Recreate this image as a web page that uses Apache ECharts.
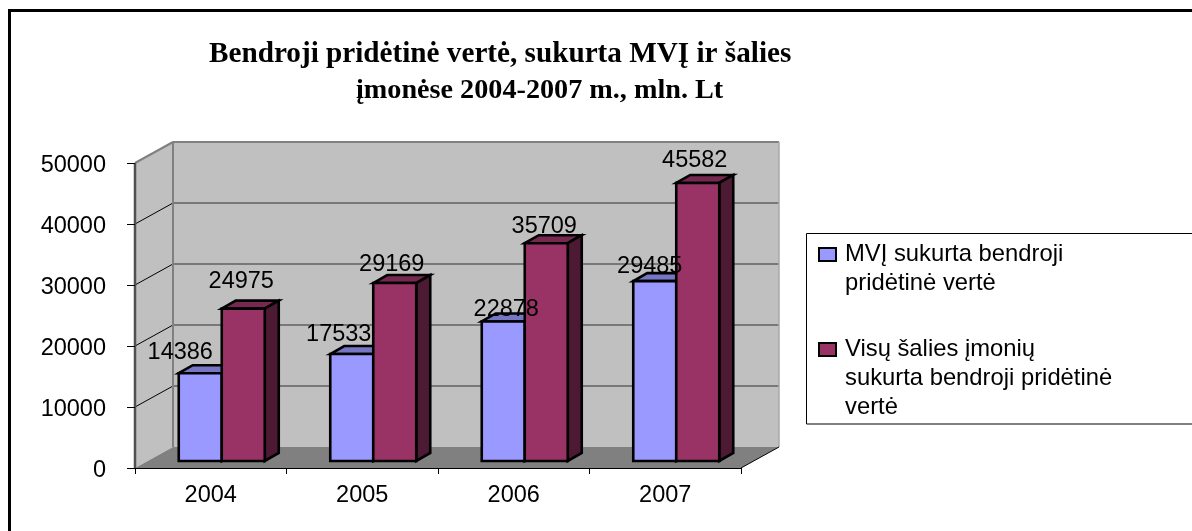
<!DOCTYPE html>
<html><head><meta charset="utf-8">
<style>html,body{margin:0;padding:0;background:#fff}#c{width:1192px;height:531px}</style>
<script src="https://cdn.jsdelivr.net/npm/echarts@6/dist/echarts.min.js"></script>
</head><body><div id="c"></div>
<script>
const categories = ['2004', '2005', '2006', '2007'];
const smeValues = [14386, 17533, 22878, 29485];
const nationalValues = [24975, 29169, 35709, 45582];
const yTicks = [0, 10000, 20000, 30000, 40000, 50000];
const smeName = 'MVĮ sukurta bendroji\npridėtinė vertė';
const nationalName = 'Visų šalies įmonių\nsukurta bendroji pridėtinė\nvertė';
const titleText = 'Bendroji pridėtinė vertė, sukurta MVĮ ir šalies';
const titleText2 = 'įmonėse 2004-2007 m., mln. Lt';

// style only: hand-placed label shifts from each bar's top centre, as in the reference
const smeLabelShift = [[-20,-21],[-13,-20],[3,-12],[-5,-15]];
const nationalLabelShift = [[-2,-27],[-3,-19],[-2,-17],[-3,-22]];

const DX = 38, DY = -21;       // wall depth
const BX = 14, BY = -8;        // bar depth
const FX = 11, FY = -7;        // shift of the bar block from the axis
const HALF = 43;
const SANS = '"Liberation Sans", Arial, sans-serif';
const SERIF = '"Liberation Serif", serif';
const FS = 23.5;

function poly(points, fill, stroke, lw, z2) {
  return { type:'polygon', z2: z2||0, shape:{points}, style:{fill, stroke: stroke||'none', lineWidth: lw||0, lineJoin:'miter'} };
}
function seg(a, b, color, w, z2) {
  return { type:'line', z2: z2||1, shape:{x1:a[0],y1:a[1],x2:b[0],y2:b[1]}, style:{stroke:color, lineWidth:w} };
}
function renderWalls(params, api) {
  const n = categories.length;
  const a0 = api.coord([0, 0]);
  const bw = api.size([1, 0])[0];
  const left = a0[0] - bw/2, right = left + bw*n;
  const y0 = a0[1], yT = api.coord([0, yTicks[yTicks.length-1]])[1];
  const kids = [
    poly([[left,yT],[left+DX,yT+DY],[left+DX,y0+DY],[left,y0]], '#c0c0c0'),
    poly([[left+DX,yT+DY],[right+DX,yT+DY],[right+DX,y0+DY],[left+DX,y0+DY]], '#c0c0c0'),
    poly([[left,y0],[left+DX,y0+DY],[right+DX,y0+DY],[right,y0]], '#808080')
  ];
  yTicks.forEach(t => {
    const y = api.coord([0,t])[1];
    if (t > 0 && t < yTicks[yTicks.length-1]) {
      kids.push(seg([left,y],[left+DX,y+DY],'#000',1));
      kids.push(seg([left+DX,y+DY],[right+DX,y+DY],'#606060',1.5));
    }
  });
  kids.push(seg([left,yT],[left+DX,yT+DY],'#808080',2));
  kids.push(seg([left+DX,yT+DY],[right+DX,yT+DY],'#808080',2));
  kids.push(seg([left+DX,yT+DY],[left+DX,y0+DY],'#808080',2));
  kids.push(seg([right+DX,yT+DY],[right+DX,y0+DY],'#a8a8a8',1.5));
  kids.push(seg([right,y0],[right+DX,y0+DY],'#000',1));
  kids.push(seg([left,yT],[left,y0],'#505050',2.5));
  return { type:'group', children:kids };
}
function makeBars(side, front, top, dark, values, shifts) {
  return function (params, api) {
    const i = api.value(0), v = api.value(1);
    const base = api.coord([i,0]), head = api.coord([i,v]);
    const x0 = base[0] + FX + (side < 0 ? -HALF : 0), x1 = x0 + HALF;
    const yb = base[1] + FY, yt = head[1] + FY;
    const s = shifts[params.dataIndex];
    const lw = 2.6;
    return { type:'group', children:[
      poly([[x0,yt],[x0+BX,yt+BY],[x1+BX,yt+BY],[x1,yt]], top, '#000', lw),
      poly([[x1,yt],[x1+BX,yt+BY],[x1+BX,yb+BY],[x1,yb]], dark, '#000', lw),
      poly([[x0,yt],[x1,yt],[x1,yb],[x0,yb]], front, '#000', lw),
      { type:'text', z2:20, style:{ text:String(values[params.dataIndex]), x:(x0+x1)/2+s[0], y:yt+s[1], align:'center', verticalAlign:'middle', font:FS+'px '+SANS, fill:'#000' } }
    ]};
  };
}
const chart = echarts.init(document.getElementById('c'), null, {renderer:'canvas'});
chart.setOption({
  animation:false,
  backgroundColor:'#fff',
  title:[
    {text:titleText, left:209, top:40, padding:0, textStyle:{fontFamily:SERIF, fontWeight:'bold', fontSize:29.2, color:'#000'}},
    {text:titleText2, left:356, top:77, padding:0, textStyle:{fontFamily:SERIF, fontWeight:'bold', fontSize:28.2, color:'#000'}}
  ],
  graphic:[
    {type:'line', z:0, shape:{x1:9.5,y1:10.5,x2:1192,y2:10.5}, style:{stroke:'#000',lineWidth:3}},
    {type:'line', z:0, shape:{x1:9.5,y1:9,x2:9.5,y2:531}, style:{stroke:'#000',lineWidth:3}},
    {type:'rect', z:0, shape:{x:806.5,y:233.5,width:400,height:190.5}, style:{fill:'#fff',stroke:'#000',lineWidth:1}}
  ],
  grid:{left:135, top:163, width:606, height:305, containLabel:false},
  xAxis:{type:'category', data:categories, boundaryGap:true,
    axisLine:{show:true,lineStyle:{color:'#000',width:1}},
    axisTick:{show:true,length:6,lineStyle:{color:'#000'}},
    axisLabel:{margin:16,fontFamily:SANS,fontSize:FS,color:'#000'},
    splitLine:{show:false}, z:5},
  yAxis:{type:'value', min:0, max:50000, interval:10000,
    axisLine:{show:false},
    axisTick:{show:true,length:8,lineStyle:{color:'#000'}},
    axisLabel:{margin:29,color:'#000',showMinLabel:true,showMaxLabel:true,
      formatter:function(v){ return '{gap| }\n{v|' + v + '}'; },
      rich:{
        gap:{fontSize:1,height:5,lineHeight:5},
        v:{fontFamily:SANS,fontSize:FS,color:'#000',lineHeight:24}
      }},
    splitLine:{show:false}, z:5},
  legend:{
    orient:'vertical', left:818, top:211, padding:0, itemGap:-21, itemWidth:17, itemHeight:13,
    icon:'rect', selectedMode:false,
    data:[
      {name:smeName, itemStyle:{color:'#9999ff',borderColor:'#000',borderWidth:2}},
      {name:nationalName, itemStyle:{color:'#993366',borderColor:'#000',borderWidth:2}}
    ],
    formatter:function(name){ return (name===smeName ? '\n' : '\n\n') + name; },
    textStyle:{fontFamily:SANS,fontSize:23.8,color:'#000',lineHeight:29,padding:[0,0,0,4]}
  },
  series:[
    {type:'custom', name:'walls', silent:true, z:1, data:[[0,0]], renderItem:renderWalls, clip:false},
    {type:'custom', name:smeName, z:2, itemStyle:{color:'#9999ff'}, clip:false,
     encode:{x:0,y:1}, data:categories.map((c,i)=>[i,smeValues[i]]),
     renderItem:makeBars(-1,'#9999ff','#7676c4','#4d4d80',smeValues,smeLabelShift)},
    {type:'custom', name:nationalName, z:2, itemStyle:{color:'#993366'}, clip:false,
     encode:{x:0,y:1}, data:categories.map((c,i)=>[i,nationalValues[i]]),
     renderItem:makeBars(1,'#993366','#772850','#4d1a33',nationalValues,nationalLabelShift)}
  ]
});
</script></body></html>
